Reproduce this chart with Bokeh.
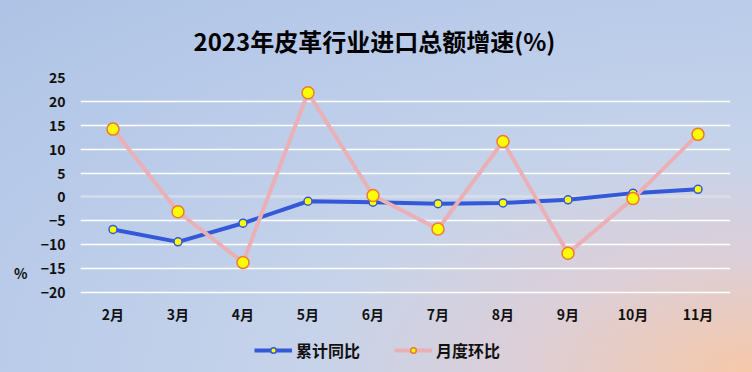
from bokeh.plotting import figure
from bokeh.models import Legend, LegendItem, FixedTicker, ColumnDataSource, Range1d, LinearAxis
from bokeh.embed import file_html
from bokeh.resources import INLINE

months = ["2月", "3月", "4月", "5月", "6月", "7月", "8月", "9月", "10月", "11月"]
cumulative = [-6.8, -9.4, -5.5, -0.9, -1.1, -1.4, -1.25, -0.6, 0.8, 1.6]
monthly = [14.2, -3.1, -13.7, 21.8, 0.3, -6.7, 11.6, -11.8, -0.35, 13.1]
y_ticks = [-20, -15, -10, -5, 0, 5, 10, 15, 20, 25]
unit_label = "%"
unit_at = -16

FONT = "Noto Sans CJK SC"

# frame spans from the top gridline (25) to the bottom of the canvas; the
# category axis is pinned at -20, leaving room for the legend underneath.
p = figure(width=752, height=372, x_range=months, y_range=Range1d(-36.74, 25),
           output_backend="svg", toolbar_location=None,
           title="2023年皮革行业进口总额增速(%)",
           min_border_left=80, min_border_right=22, min_border_top=77, min_border_bottom=0)
p.styles = {"background": "radial-gradient(ellipse at 100% 100%, #f6c8a9 0%, #dccfd8 22%, #c6d3ea 42%, #bccdea 65%, #aec3e5 100%)"}
p.border_fill_alpha = 0
p.background_fill_alpha = 0
p.outline_line_color = None

p.title.align = "left"
p.title.offset = 113
p.title.text_font = FONT
p.title.text_font_style = "bold"
p.title.text_font_size = "24px"
p.title.text_color = "#000000"
p.title.standoff = 40

p.xgrid.grid_line_color = None
p.ygrid.ticker = FixedTicker(ticks=y_ticks)
p.ygrid.grid_line_color = "white"
p.ygrid.grid_line_width = 1.5
p.yaxis.ticker = FixedTicker(ticks=y_ticks)
p.xaxis.fixed_location = y_ticks[0]

unit_axis = LinearAxis(ticker=FixedTicker(ticks=[unit_at]),
                       major_label_overrides={unit_at: unit_label})
p.add_layout(unit_axis, "left")

for ax in (p.xaxis[0], p.yaxis[0], unit_axis):
    ax.axis_line_color = None
    ax.major_tick_line_color = None
    ax.minor_tick_line_color = None
    ax.major_tick_out = 0
    ax.major_tick_in = 0
    ax.major_label_text_font = FONT
    ax.major_label_text_font_style = "bold"
    ax.major_label_text_font_size = "14px"
    ax.major_label_text_color = "#111111"
p.yaxis[0].major_label_standoff = 15
unit_axis.major_label_standoff = 10
p.xaxis.major_label_standoff = 11

# the zero gridline is drawn in a lighter grey
p.hspan(y=[0], line_color="#d8dce4", line_width=1.5)

src = ColumnDataSource(dict(m=months, c=cumulative, mo=monthly))
l1 = p.line("m", "c", source=src, line_color="#3358d8", line_width=4)
s1 = p.scatter("m", "c", source=src, size=8, fill_color="#ffff00", line_color="#3358d8", line_width=1.5)
l2 = p.line("m", "mo", source=src, line_color="#eab0b6", line_width=4)
s2 = p.scatter("m", "mo", source=src, size=12, fill_color="#ffff00", line_color="#ee7a30", line_width=1.5)

legend = Legend(items=[LegendItem(label="累计同比", renderers=[l1, s1]),
                       LegendItem(label="月度环比", renderers=[l2, s2])],
                orientation="horizontal", location=(174, 10),
                label_text_font=FONT, label_text_font_size="16px", label_text_font_style="bold",
                label_text_color="#111111",
                glyph_width=38, glyph_height=14, label_standoff=4, spacing=34, padding=0, margin=0,
                background_fill_alpha=0, border_line_alpha=0)
p.add_layout(legend)

open("out.html", "w").write(file_html(p, INLINE))
